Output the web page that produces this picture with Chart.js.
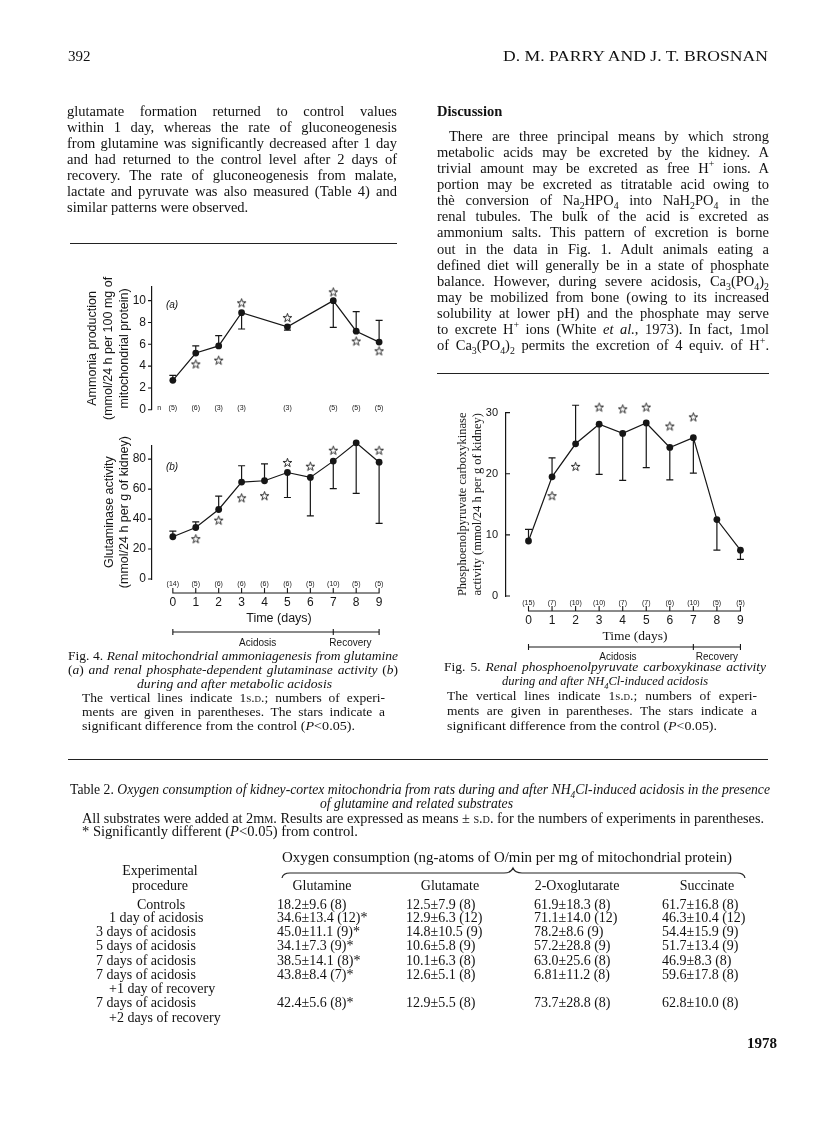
<!DOCTYPE html>
<html><head><meta charset="utf-8">
<script src="https://cdn.jsdelivr.net/npm/chart.js@4.4.0/dist/chart.umd.min.js"></script>
<style>
html,body{margin:0;padding:0;background:#fff;}
body{width:816px;height:1136px;position:relative;overflow:hidden;font-family:"Liberation Serif",serif;color:#111;}
.t{position:absolute;white-space:nowrap;line-height:1;}
.t span.in{display:inline-block;transform-origin:0 50%;}
canvas{position:absolute;}
.rule{position:absolute;height:0;border-top:1.3px solid #222;}
.sc{font-variant:small-caps;}
sub,sup{font-size:0.68em;line-height:0;}
</style></head>
<body>
<canvas id="c4a"></canvas>
<canvas id="c4b"></canvas>
<canvas id="c5"></canvas>
<svg style="position:absolute;left:0;top:0" width="816" height="1136">
<path d="M282 878 Q283 873 290 873 L504 873 Q511 873 513 868 Q515 873 522 873 L737 873 Q744 873 745 878" fill="none" stroke="#222" stroke-width="1.2"/>
</svg>
<script>
// ---------- DATA ----------
const days = [0,1,2,3,4,5,6,7,8,9];
// Fig. 4(a) ammonia production
const ammonia      = [2.7, 5.2, 5.85, 8.9, null, 7.6, null, 10.0, 7.2, 6.2];
const ammoniaSdEnd = [3.15,5.85,6.8, 7.4, null, 7.3, null, 7.55, 9.0, 8.2];
const ammoniaStars = [null,4.2, 4.55,9.8, null, 8.45,null, 10.8, 6.3, 5.4];
const ammoniaN     = ['(5)','(6)','(3)','(3)','','(3)','','(5)','(5)','(5)'];
const ammoniaTicks = [0,2,4,6,8,10];
// Fig. 4(b) glutaminase activity
const glutaminase      = [28.2,34.4,46.4,64.7,65.6,71.1,67.8,78.7,90.9,78.0];
const glutaminaseSdEnd = [32.0,38.2,55.3,75.6,76.9,54.4,42.2,60.4,57.1,37.1];
const glutaminaseStars = [null,26.9,39.3,54.2,55.6,77.8,75.3,86.0,97.5,86.0];
const glutaminaseN     = ['(14)','(5)','(6)','(6)','(6)','(6)','(5)','(10)','(5)','(5)'];
const glutaminaseTicks = [0,20,40,60,80];
// Fig. 5 PEPCK activity
const pepck      = [9.0,19.5,24.9,28.1,26.6,28.3,24.3,25.9,12.5,7.5];
const pepckSdEnd = [10.9,22.6,31.2,19.9,18.9,21.0,19.0,20.1,7.5,6.0];
const pepckStars = [null,16.4,21.2,30.9,30.6,30.9,27.8,29.3,null,null];
const pepckN     = ['(15)','(7)','(10)','(10)','(7)','(7)','(6)','(10)','(5)','(5)'];
const pepckTicks = [0,10,20,30];
const phases = ['Acidosis','Recovery'];
const phaseBounds = [0,7,9];

// ---------- TEXT HELPER ----------
function T(x,y,html,o){
  o=o||{};
  const d=document.createElement('div'); d.className='t';
  const fs=o.fs||14.5; d.style.fontSize=fs+'px';
  if(o.ff) d.style.fontFamily=o.ff;
  if(o.b) d.style.fontWeight='bold';
  if(o.i) d.style.fontStyle='italic';
  const s=document.createElement('span'); s.className='in'; s.innerHTML=html; d.appendChild(s);
  document.body.appendChild(d);
  d.style.top=(y-0.56*fs)+'px';
  const nat=s.getBoundingClientRect().width;
  let w=nat;
  if(o.w){
    const sp=(s.textContent.match(/ /g)||[]).length;
    if(o.just && nat<o.w && sp>0){ s.style.wordSpacing=((o.w-nat)/sp)+'px'; }
    else { s.style.transform='scaleX('+(o.w/nat)+')'; }
    w=o.w;
  }
  let left=x; if(o.c) left=x-w/2; if(o.r) left=x-w;
  d.style.left=left+'px';
}
function R(x1,x2,y){const d=document.createElement('div');d.className='rule';d.style.left=x1+'px';d.style.width=(x2-x1)+'px';d.style.top=y+'px';document.body.appendChild(d);}

// header
T(68,57,'392',{fs:15});
T(503,57,'D. M. PARRY AND J. T. BROSNAN',{fs:15,w:265});

// left column
const L=['glutamate formation returned to control values','within 1 day, whereas the rate of gluconeogenesis','from glutamine was significantly decreased after 1 day','and had returned to the control level after 2 days of','recovery. The rate of gluconeogenesis from malate,','lactate and pyruvate was also measured (Table 4) and','similar patterns were observed.'];
L.forEach((s,i)=>T(67,112+16*i,s,i<6?{w:330,just:true}:{}));
R(70,397,243);

// right column
T(437,112,'Discussion',{b:true});
const RC=['There are three principal means by which strong','metabolic acids may be excreted by the kidney. A','trivial amount may be excreted as free H<sup>+</sup> ions. A','portion may be excreted as titratable acid owing to','thè conversion of Na<sub>2</sub>HPO<sub>4</sub> into NaH<sub>2</sub>PO<sub>4</sub> in the','renal tubules. The bulk of the acid is excreted as','ammonium salts. This pattern of excretion is borne','out in the data in Fig. 1. Adult animals eating a','defined diet will generally be in a state of phosphate','balance. However, during severe acidosis, Ca<sub>3</sub>(PO<sub>4</sub>)<sub>2</sub>','may be mobilized from bone (owing to its increased','solubility at lower pH) and the phosphate may serve','to excrete H<sup>+</sup> ions (White <i>et al.</i>, 1973). In fact, 1mol','of Ca<sub>3</sub>(PO<sub>4</sub>)<sub>2</sub> permits the excretion of 4 equiv. of H<sup>+</sup>.'];
RC.forEach((s,i)=>T(i?437:449,137+16.1*i,s,{w:i?332:320,just:true}));
R(437,769,373);

// fig 4 caption
const cf=13.5;
T(68,657,'Fig. 4. <i>Renal mitochondrial ammoniagenesis from glutamine</i>',{fs:cf,w:330,just:true});
T(68,671,'(<i>a</i>) <i>and renal phosphate-dependent glutaminase activity</i> (<i>b</i>)',{fs:cf,w:330,just:true});
T(234,685,'<i>during and after metabolic acidosis</i>',{fs:cf,w:195,c:true});
T(82,699,'The vertical lines indicate 1<span class="sc">s.d.</span>; numbers of experi-',{fs:cf,w:303,just:true});
T(82,713,'ments are given in parentheses. The stars indicate a',{fs:cf,w:303,just:true});
T(82,727,'significant difference from the control (<i>P</i>&lt;0.05).',{fs:cf,w:273});
// fig 5 caption
T(444,668,'Fig. 5. <i>Renal phosphoenolpyruvate carboxykinase activity</i>',{fs:cf,w:322,just:true});
T(605,682,'<i>during and after NH<sub>4</sub>Cl-induced acidosis</i>',{fs:cf,w:206,c:true});
T(447,697,'The vertical lines indicate 1<span class="sc">s.d.</span>; numbers of experi-',{fs:cf,w:310,just:true});
T(447,712,'ments are given in parentheses. The stars indicate a',{fs:cf,w:310,just:true});
T(447,727,'significant difference from the control (<i>P</i>&lt;0.05).',{fs:cf,w:270});
R(68,768,759);

// table
T(70,791,'Table 2. <i>Oxygen consumption of kidney-cortex mitochondria from rats during and after NH<sub>4</sub>Cl-induced acidosis in the presence</i>',{fs:14,w:700,just:true});
T(416,805,'<i>of glutamine and related substrates</i>',{fs:14,w:193,c:true});
T(82,820,'All substrates were added at 2m<span class="sc">m</span>. Results are expressed as means ± <span class="sc">s.d.</span> for the numbers of experiments in parentheses.',{fs:14,w:682});
T(82,833,'* Significantly different (<i>P</i>&lt;0.05) from control.',{fs:14,w:276});
T(282,859,'Oxygen consumption (ng-atoms of O/min per mg of mitochondrial protein)',{fs:14,w:450});
T(160,872,'Experimental',{fs:14,c:true});
T(160,887,'procedure',{fs:14,c:true});
[['Glutamine',322],['Glutamate',450],['2-Oxoglutarate',577],['Succinate',707]].forEach(h=>T(h[1],887,h[0],{fs:14,c:true}));
const rows=[
 ['Controls',137,906,['18.2 ± 9.6 (8)','12.5 ± 7.9 (8)','61.9 ± 18.3 (8)','61.7 ± 16.8 (8)']],
 ['1 day of acidosis',109,919,['34.6 ± 13.4 (12)*','12.9 ± 6.3 (12)','71.1 ± 14.0 (12)','46.3 ± 10.4 (12)']],
 ['3 days of acidosis',96,933,['45.0 ± 11.1 (9)*','14.8 ± 10.5 (9)','78.2 ± 8.6 (9)','54.4 ± 15.9 (9)']],
 ['5 days of acidosis',96,947,['34.1 ± 7.3 (9)*','10.6 ± 5.8 (9)','57.2 ± 28.8 (9)','51.7 ± 13.4 (9)']],
 ['7 days of acidosis',96,962,['38.5 ± 14.1 (8)*','10.1 ± 6.3 (8)','63.0 ± 25.6 (8)','46.9 ± 8.3 (8)']],
 ['7 days of acidosis',96,976,['43.8 ± 8.4 (7)*','12.6 ± 5.1 (8)','6.81 ± 11.2 (8)','59.6 ± 17.8 (8)']],
 ['+1 day of recovery',109,990,[]],
 ['7 days of acidosis',96,1004,['42.4 ± 5.6 (8)*','12.9 ± 5.5 (8)','73.7 ± 28.8 (8)','62.8 ± 10.0 (8)']],
 ['+2 days of recovery',109,1019,[]]
];
const colX=[277,406,534,662];
rows.forEach(r=>{T(r[1],r[2],r[0],{fs:14}); r[3].forEach((v,k)=>T(colX[k],r[2],v.replace(/ ± /g,'±'),{fs:14}));});
T(747,1044,'1978',{fs:15,b:true});

// ---------- CHARTS ----------
Chart.defaults.font.family='"Liberation Sans", Arial, sans-serif';
Chart.defaults.color='#161616';
function starImg(){
  const c=document.createElement('canvas'); c.width=11; c.height=11;
  const g=c.getContext('2d'); g.beginPath();
  for(let k=0;k<10;k++){const r=k%2?1.8:4.6; const a=-Math.PI/2+k*Math.PI/5; const px=5.5+r*Math.cos(a), py=5.9+r*Math.sin(a); if(k) g.lineTo(px,py); else g.moveTo(px,py);}
  g.closePath(); g.fillStyle='#fff'; g.fill(); g.lineWidth=0.9; g.strokeStyle='#161616'; g.stroke(); return c;
}
const STAR=starImg();
const pts=a=>days.map((d,i)=>({x:d,y:a[i]})).filter(p=>p.y!=null);

const deco={
  id:'deco',
  beforeDatasetsDraw(chart,args,o){
    const ctx=chart.ctx, xs=chart.scales.x, ys=chart.scales.y;
    ctx.save(); ctx.strokeStyle='#161616'; ctx.lineWidth=1.2;
    o.values.forEach((v,i)=>{
      if(v==null||o.sdEnd[i]==null) return;
      const px=xs.getPixelForValue(days[i]), p1=ys.getPixelForValue(v), p2=ys.getPixelForValue(o.sdEnd[i]);
      ctx.beginPath(); ctx.moveTo(px,p1); ctx.lineTo(px,p2); ctx.moveTo(px-3.5,p2); ctx.lineTo(px+3.5,p2); ctx.stroke();
    });
    ctx.restore();
  },
  afterDraw(chart,args,o){
    const ctx=chart.ctx, xs=chart.scales.x, ys=chart.scales.y, ca=chart.chartArea;
    const X=v=>xs.getPixelForValue(v);
    ctx.save(); ctx.fillStyle='#161616'; ctx.strokeStyle='#161616'; ctx.lineWidth=1.1;
    ctx.beginPath();
    o.yTicks.forEach(v=>{const py=ys.getPixelForValue(v); ctx.moveTo(ca.left,py); ctx.lineTo(ca.left+o.yTickLen,py);});
    ctx.stroke();
    ctx.font='7px "Liberation Sans"'; ctx.textAlign='center'; ctx.textBaseline='middle';
    o.n.forEach((t,i)=>{ if(t) ctx.fillText(t, X(days[i]), ca.bottom+o.nOff); });
    if(o.nExtra) ctx.fillText(o.nExtra, X(-0.6), ca.bottom+o.nOff);
    if(o.axisOff!=null){
      const y=ca.bottom+o.axisOff;
      ctx.beginPath(); ctx.moveTo(X(days[0]),y); ctx.lineTo(X(days[days.length-1]),y);
      days.forEach(d=>{ctx.moveTo(X(d),y+0.5); ctx.lineTo(X(d),y-5);});
      ctx.stroke();
    }
    if(o.bracketOff!=null){
      const y=ca.bottom+o.bracketOff;
      ctx.beginPath(); ctx.moveTo(X(phaseBounds[0]),y); ctx.lineTo(X(phaseBounds[2]),y);
      phaseBounds.forEach(v=>{ctx.moveTo(X(v),y-3); ctx.lineTo(X(v),y+3);});
      ctx.stroke();
      ctx.font='10px "Liberation Sans"';
      phases.forEach((p,k)=>ctx.fillText(p, X(o.phaseAt[k]), y+o.phaseLabelOff));
    }
    if(o.letter){
      ctx.font='italic 10px "Liberation Sans"'; ctx.textAlign='left';
      ctx.fillText(o.letter[0], X(o.letter[1]), ys.getPixelForValue(o.letter[2]));
    }
    ctx.restore();
  }
};

function panel(id, box, area, o){
  const cv=document.getElementById(id);
  cv.width=box[2]; cv.height=box[3];
  cv.style.left=box[0]+'px'; cv.style.top=box[1]+'px'; cv.style.width=box[2]+'px'; cv.style.height=box[3]+'px';
  const yW=area.left-box[0], xH=box[1]+box[3]-area.bottom;
  const xmin=o.x0-(o.x0px-area.left)/o.ppd, xmax=o.x0+(area.right-o.x0px)/o.ppd;
  new Chart(cv,{
    type:'line',
    data:{datasets:[
      {data:pts(o.values),borderColor:'#161616',borderWidth:1.2,pointRadius:3.4,pointBackgroundColor:'#161616',pointBorderWidth:0,spanGaps:true,clip:false,tension:0},
      {data:pts(o.stars),showLine:false,pointStyle:STAR,pointRadius:5,clip:false}
    ]},
    options:{
      responsive:false,animation:false,events:[],
      layout:{padding:{left:0,top:area.top-box[1],right:box[0]+box[2]-area.right,bottom:0}},
      plugins:{legend:{display:false},tooltip:{enabled:false},deco:o.deco},
      scales:{
        x:{type:'linear',min:xmin,max:xmax,display:o.xShow,
           afterBuildTicks:s=>{s.ticks=days.map(v=>({value:v}));},
           afterFit:s=>{s.height=xH;},
           grid:{display:false,drawTicks:false},border:{display:false},
           ticks:{padding:o.xPad,font:{size:12},color:'#161616',maxRotation:0,autoSkip:false},
           title:{display:!!o.xTitle,text:o.xTitle,font:o.xTitleFont,padding:{top:0,bottom:o.xTitlePad},color:'#161616'}},
        y:{type:'linear',min:0,max:o.ymax,
           afterBuildTicks:s=>{s.ticks=o.yTicks.map(v=>({value:v}));},
           afterFit:s=>{s.width=yW;},
           grid:{display:false,drawTicks:false},border:{display:true,color:'#161616',width:1.2},
           ticks:{padding:o.yPad,font:{size:o.yTickSize||12},color:'#161616'},
           title:{display:true,text:o.yTitle,font:o.yTitleFont,padding:{top:o.yTitlePad,bottom:0},color:'#161616'}}
      }
    },
    plugins:[deco]
  });
}

panel('c4a',[60,266,352,157],{left:152,top:287,right:408,bottom:413},{
  values:ammonia, stars:ammoniaStars, yTicks:ammoniaTicks, ymax:11.25,
  x0:0, x0px:173, ppd:23.1, xShow:false,
  yPad:6, yTitle:['Ammonia production','(mmol/24 h per 100 mg of','mitochondrial protein)'],
  yTitleFont:{size:12.5,lineHeight:16/12.5}, yTitlePad:25,
  deco:{values:ammonia,sdEnd:ammoniaSdEnd,yTicks:ammoniaTicks,yTickLen:-4,n:ammoniaN,nOff:-2,nExtra:'n',letter:['(a)',-0.3,9.6]}
});
panel('c4b',[60,432,352,228],{left:152,top:445,right:408,bottom:579},{
  values:glutaminase, stars:glutaminaseStars, yTicks:glutaminaseTicks, ymax:89.33,
  x0:0, x0px:173, ppd:23.1, xShow:true, xPad:16.8, xTitle:'Time (days)', xTitleFont:{size:12.5}, xTitlePad:33.5,
  yPad:6, yTitle:['Glutaminase activity','(mmol/24 h per g of kidney)'],
  yTitleFont:{size:12.5,lineHeight:15/12.5}, yTitlePad:42.5,
  deco:{values:glutaminase,sdEnd:glutaminaseSdEnd,yTicks:glutaminaseTicks,yTickLen:-4,n:glutaminaseN,nOff:5,axisOff:14,bracketOff:53,phaseAt:[3.7,7.75],phaseLabelOff:11,letter:['(b)',-0.3,74.5]}
});
panel('c5',[440,398,335,270],{left:506,top:411.7,right:764,bottom:596},{
  values:pepck, stars:pepckStars, yTicks:pepckTicks, ymax:30,
  x0:0, x0px:528.5, ppd:23.55, xShow:true, xPad:17.8, xTitle:'Time (days)', xTitleFont:{size:13.5,family:'"Liberation Serif", serif'}, xTitlePad:23,
  yPad:8, yTickSize:11, yTitle:['Phosphoenolpyruvate carboxykinase','activity (mmol/24 h per g of kidney)'],
  yTitleFont:{size:12.5,lineHeight:15/12.5,family:'"Liberation Serif", serif'}, yTitlePad:15.5,
  deco:{values:pepck,sdEnd:pepckSdEnd,yTicks:pepckTicks,yTickLen:4,n:pepckN,nOff:7,axisOff:15,bracketOff:51,phaseAt:[3.8,8.0],phaseLabelOff:10}
});
</script>
</body></html>
